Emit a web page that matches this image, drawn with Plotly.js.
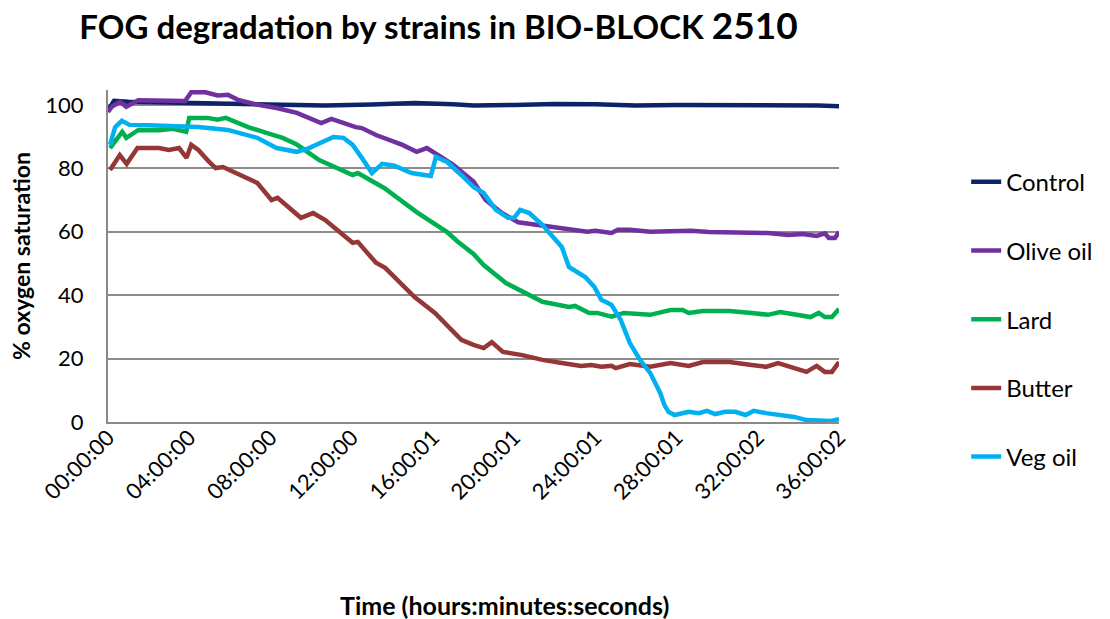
<!DOCTYPE html>
<html>
<head>
<meta charset="utf-8">
<script src="https://cdn.plot.ly/plotly-3.0.1.min.js"></script>
<style>html,body{margin:0;padding:0;background:#fff;}#chart{width:1110px;height:619px;}</style>
</head>
<body>
<div id="chart"></div>
<script>
// Time in hours since start, values in % oxygen saturation
var controlT = [0, 0.3, 1.0, 3, 6, 8.3, 10.7, 13, 15.1, 17, 18, 20, 22, 24, 26, 28, 30, 32, 34, 35, 36];
var controlV = [98.2, 101.3, 101, 100.8, 100.6, 100.3, 99.8, 100.1, 100.6, 100.2, 99.8, 100, 100.3, 100.2, 99.8, 100, 100, 99.8, 99.7, 99.8, 99.6];

var oliveT = [0, 0.2, 0.6, 0.9, 1.5, 2.5, 3.2, 3.8, 4.1, 4.8, 5.4, 5.9, 6.4, 7.4, 8.3, 9.3, 10.5, 11.0, 12.2, 12.5, 13.2, 13.6, 14.5, 15.2, 15.7, 16.4, 17.0, 18.0, 18.6, 19.4, 20.2, 21.9, 22.8, 23.6, 24.0, 24.8, 25.1, 25.7, 26.7, 27.7, 28.7, 29.6, 30.6, 31.6, 32.5, 33.5, 34.2, 34.9, 35.3, 35.5, 35.8, 36];
var oliveV = [97.8, 99.5, 101, 99.4, 101.5, 101.4, 101.6, 101.2, 104, 104, 103, 103.2, 101.6, 100, 99, 97.5, 94.3, 95.6, 93, 92.7, 90.5, 89.6, 87.4, 85.2, 86.4, 83.6, 81.1, 75.8, 70, 65.9, 63, 61.5, 60.6, 60, 60.3, 59.6, 60.6, 60.6, 60, 60.3, 60.3, 59.9, 59.9, 59.9, 59.6, 59, 59.3, 58.7, 59.5, 58, 58, 60];

var lardT = [0.1, 0.7, 0.9, 1.5, 2.5, 3.2, 3.85, 4.0, 4.9, 5.4, 5.8, 6.9, 7.8, 8.6, 9.3, 10.4, 12.05, 12.3, 13.6, 15.2, 16.7, 17.2, 18.0, 18.5, 19.6, 21.4, 22.7, 23.0, 23.7, 24.1, 24.8, 25.4, 26.7, 27.7, 28.3, 28.6, 29.3, 30.6, 31.7, 32.5, 33.1, 33.8, 34.6, 35.0, 35.3, 35.65, 36];
var lardV = [86.4, 91.5, 89.6, 92.1, 92, 92.5, 91.5, 95.9, 95.9, 95.3, 95.9, 93, 91.2, 89.6, 87.5, 82.6, 77.9, 78.5, 73.8, 66.2, 59.9, 57, 53, 49.5, 43.8, 37.9, 36.3, 36.6, 34.4, 34.4, 33.2, 34.4, 33.8, 35.3, 35.3, 34.4, 35, 35, 34.4, 33.8, 34.7, 33.8, 33.1, 34.4, 33.1, 33.1, 35.6];

var butterT = [0.1, 0.58, 0.92, 1.45, 2.5, 3.0, 3.5, 3.87, 4.1, 4.45, 4.9, 5.3, 5.66, 6.14, 7.35, 8.05, 8.35, 9.5, 10.1, 10.7, 12.05, 12.3, 13.2, 13.65, 15.1, 16.1, 16.9, 17.4, 18.0, 18.5, 18.9, 19.45, 20.4, 21.4, 22.35, 23.3, 23.8, 24.3, 24.8, 25.0, 25.7, 26.7, 27.7, 28.6, 29.3, 30.6, 31.7, 32.4, 33.0, 33.8, 34.4, 34.9, 35.3, 35.65, 36];
var butterV = [79.5, 84.2, 81.4, 86.4, 86.4, 85.8, 86.4, 83.3, 87.4, 85.8, 82.6, 80.1, 80.4, 78.9, 75.4, 70, 70.7, 64.4, 65.9, 63.7, 56.5, 56.8, 50.2, 48.6, 39.4, 34.4, 29, 25.9, 24.3, 23.3, 25.2, 22.1, 21.1, 19.6, 18.6, 17.7, 18, 17.4, 17.7, 17, 18.3, 17.4, 18.6, 17.7, 18.9, 18.9, 18, 17.4, 18.6, 17, 15.8, 17.7, 15.8, 15.8, 18.9];

var vegT = [0.1, 0.35, 0.68, 1.06, 2.0, 4.45, 5.9, 7.35, 8.3, 9.3, 9.9, 10.6, 11.1, 11.6, 12.05, 12.5, 13.0, 13.5, 14.1, 14.95, 15.9, 16.15, 16.7, 17.4, 18.0, 18.5, 19.1, 19.7, 20.0, 20.3, 20.75, 21.4, 22.0, 22.35, 22.7, 23.2, 23.5, 23.95, 24.3, 24.5, 24.8, 25.25, 25.7, 26.2, 26.7, 27.2, 27.4, 27.6, 27.9, 28.6, 29.1, 29.5, 29.9, 30.4, 30.9, 31.4, 31.8, 32.4, 33.0, 33.8, 34.4, 35.1, 35.6, 36];
var vegV = [87.4, 93, 95, 93.7, 93.6, 93, 92.1, 89.6, 86.4, 85.2, 86.4, 88.3, 89.9, 89.6, 87.4, 83.3, 78.5, 81.4, 80.8, 78.5, 77.6, 83.6, 82, 77.9, 74.1, 72.2, 66.9, 64.4, 64.4, 66.9, 65.9, 62.1, 57.4, 55.2, 48.9, 47, 45.7, 42.6, 38.5, 37.9, 36.9, 32.2, 24.9, 19.6, 15.5, 9.1, 5.4, 3.2, 2.2, 3.2, 2.8, 3.5, 2.5, 3.2, 3.2, 2.2, 3.5, 2.8, 2.2, 1.6, 0.6, 0.3, 0.3, 0.9];

var tickHours = [0, 4, 8, 12, 16, 20, 24, 28, 32, 36];
var tickLabels = ['00:00:00', '04:00:00', '08:00:00', '12:00:00', '16:00:01', '20:00:01', '24:00:01', '28:00:01', '32:00:02', '36:00:02'];
var yTicks = [0, 20, 40, 60, 80, 100];

var seriesNames = ['Control', 'Olive oil', 'Lard', 'Butter', 'Veg oil'];
var seriesColors = ['#0c2366', '#7030a0', '#00b050', '#953735', '#00b0f0'];
var seriesT = [controlT, oliveT, lardT, butterT, vegT];
var seriesV = [controlV, oliveV, lardV, butterV, vegV];

var FONT = 'Lato, "Open Sans", sans-serif';

var traces = seriesNames.map(function (n, i) {
  return {
    type: 'scatter', mode: 'lines', name: n, legendgroup: 'g' + i,
    x: seriesT[i], y: seriesV[i],
    line: {color: seriesColors[i], width: 4.5, shape: 'linear'},
    hoverinfo: 'x+y+name'
  };
});

var layout = {
  width: 1110, height: 619,
  paper_bgcolor: '#ffffff', plot_bgcolor: '#ffffff',
  margin: {l: 108, r: 258, t: 90, b: 197},
  font: {family: FONT, color: '#000', size: 21},
  title: {
    text: '<b>FOG degradation by strains in BIO-BLOCK <span style="font-size:37px">2510</span></b>',
    font: {family: FONT, size: 33, color: '#000'},
    xref: 'container', yref: 'container', x: 0.395, xanchor: 'center', y: 0.955, yanchor: 'middle'
  },
  xaxis: {
    range: [0, 36], tickvals: tickHours, ticktext: tickLabels, tickangle: -45,
    showgrid: false, zeroline: false, showline: true, linecolor: '#8a8a8a', linewidth: 2,
    ticks: '', ticklabelstandoff: -8, tickfont: {family: FONT, size: 22, color: '#000'}
  },
  yaxis: {
    range: [0, 104.7], tickvals: yTicks, showgrid: true, gridcolor: '#8c8c8c', gridwidth: 2,
    zeroline: false, showline: true, linecolor: '#8a8a8a', linewidth: 2, ticks: '',
    ticklabelstandoff: 18,
    tickfont: {family: FONT, size: 22, color: '#000'},
    title: {text: '<b>% oxygen saturation</b>', font: {family: FONT, size: 23, color: '#000'}, standoff: 8}
  },
  annotations: [{
    text: '<b>Time (hours:minutes:seconds)</b>', xref: 'paper', yref: 'paper',
    x: 0.543, y: -0.551, xanchor: 'center', yanchor: 'middle', showarrow: false,
    font: {family: FONT, size: 25, color: '#000'}
  }],
  showlegend: true,
  legend: {
    x: 1.174, xanchor: 'left', y: 0.79, yanchor: 'top', traceorder: 'grouped',
    tracegroupgap: 34.5, font: {family: FONT, size: 24, color: '#000'},
    bgcolor: 'rgba(0,0,0,0)'
  }
};

Plotly.newPlot('chart', traces, layout, {displayModeBar: false, staticPlot: true});
</script>
</body>
</html>
